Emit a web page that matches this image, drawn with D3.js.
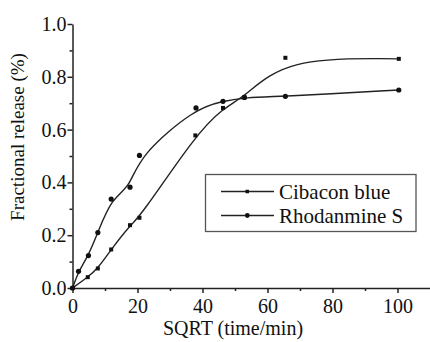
<!DOCTYPE html>
<html>
<head>
<meta charset="utf-8">
<script src="https://cdn.jsdelivr.net/npm/d3@7"></script>
</head>
<body style="margin:0; background:#fff">
<script>
// values
const cibaconX = [0, 4.7, 7.8, 11.9, 17.7, 20.6, 37.8, 46.3, 52.9, 65.5, 100.4];
const cibaconY = [0, 0.041, 0.074, 0.146, 0.238, 0.266, 0.578, 0.682, 0.722, 0.872, 0.868];
const rhodX = [0, 1.85, 4.9, 7.8, 11.9, 17.7, 20.6, 38.0, 46.3, 52.9, 65.5, 100.4];
const rhodY = [0, 0.063, 0.123, 0.21, 0.337, 0.382, 0.502, 0.682, 0.707, 0.722, 0.726, 0.75];
const xTicks = [0, 20, 40, 60, 80, 100];
const xMinor = [10, 30, 50, 70, 90];
const yTicks = [0, 0.2, 0.4, 0.6, 0.8, 1.0];
const yMinor = [0.1, 0.3, 0.5, 0.7, 0.9];
const seriesNames = ["Cibacon blue", "Rhodanmine S"];

const width = 430;
const height = 342;
const ink = "#222";

const svg = d3.select("body")
  .append("svg")
  .attr("width", width)
  .attr("height", height)
  .style("display", "block")
  .style("font-family", "'Liberation Serif'");

const xScale = d3.scaleLinear().domain([0, 110]).range([72.5, 430]);
const yScale = d3.scaleLinear().domain([0, 1]).range([288, 24]);

function styleAxis(g) {
  g.attr("font-family", null).attr("font-size", null);
  g.selectAll("path, line").attr("stroke", ink).attr("stroke-width", 1.5);
  g.selectAll("text")
    .style("font-family", "'Liberation Serif'")
    .style("font-size", "20px")
    .attr("fill", "#111");
}

// minor ticks
svg.append("g")
  .attr("transform", "translate(0," + yScale(0) + ")")
  .call(d3.axisBottom(xScale).tickValues(xMinor).tickSize(3).tickFormat(""))
  .call(styleAxis)
  .select(".domain").remove();

svg.append("g")
  .attr("transform", "translate(" + xScale(0) + ",0)")
  .call(d3.axisLeft(yScale).tickValues(yMinor).tickSize(3).tickFormat(""))
  .call(styleAxis)
  .select(".domain").remove();

// main axes
svg.append("g")
  .attr("transform", "translate(0," + yScale(0) + ")")
  .call(d3.axisBottom(xScale).tickValues(xTicks).tickSize(5).tickSizeOuter(0).tickPadding(6).tickFormat(d3.format("d")))
  .call(styleAxis);

svg.append("g")
  .attr("transform", "translate(" + xScale(0) + ",0)")
  .call(d3.axisLeft(yScale).tickValues(yTicks).tickSize(5).tickSizeOuter(0).tickPadding(1).tickFormat(d3.format(".1f")))
  .call(styleAxis);

// B-spline style curves through the points
const line = d3.line()
  .x(d => xScale(d[0]))
  .y(d => yScale(d[1]))
  .curve(d3.curveBasis);

const cibacon = cibaconX.map((v, i) => [v, cibaconY[i]]);
const rhod = rhodX.map((v, i) => [v, rhodY[i]]);

[cibacon, rhod].forEach(data => {
  svg.append("path")
    .datum(data)
    .attr("d", line)
    .attr("fill", "none")
    .attr("stroke", ink)
    .attr("stroke-width", 1.4);
});

svg.selectAll("rect.pt")
  .data(cibacon)
  .enter()
  .append("rect")
  .attr("class", "pt")
  .attr("x", d => xScale(d[0]) - 2)
  .attr("y", d => yScale(d[1]) - 2)
  .attr("width", 4)
  .attr("height", 4)
  .attr("fill", "#111");

svg.selectAll("circle.pt")
  .data(rhod)
  .enter()
  .append("circle")
  .attr("class", "pt")
  .attr("cx", d => xScale(d[0]))
  .attr("cy", d => yScale(d[1]))
  .attr("r", 2.6)
  .attr("fill", "#111");

// axis titles
svg.append("text")
  .attr("x", 233)
  .attr("y", 335)
  .attr("text-anchor", "middle")
  .style("font-family", "'Liberation Serif'")
  .style("font-size", "20px")
  .attr("fill", "#111")
  .text("SQRT (time/min)");

svg.append("text")
  .attr("transform", "rotate(-90)")
  .attr("x", -137)
  .attr("y", 24)
  .attr("text-anchor", "middle")
  .style("font-family", "'Liberation Serif'")
  .style("font-size", "19px")
  .attr("fill", "#111")
  .text("Fractional release (%)");

// legend
const legend = svg.append("g");
legend.append("rect")
  .attr("x", 205.5)
  .attr("y", 174.5)
  .attr("width", 210.5)
  .attr("height", 57)
  .attr("fill", "#fff")
  .attr("stroke", "#555")
  .attr("stroke-width", 1.3);

const rows = [191.5, 215.5];
seriesNames.forEach((name, i) => {
  const g = legend.append("g").attr("transform", "translate(0," + rows[i] + ")");
  g.append("line")
    .attr("x1", 221).attr("x2", 274)
    .attr("y1", 0).attr("y2", 0)
    .attr("stroke", ink)
    .attr("stroke-width", 1.4);
  if (i === 0) {
    g.append("rect").attr("x", 245.5).attr("y", -1.75).attr("width", 3.5).attr("height", 3.5).attr("fill", "#111");
  } else {
    g.append("circle").attr("cx", 247.3).attr("cy", 0).attr("r", 2.4).attr("fill", "#111");
  }
  g.append("text")
    .attr("x", 279)
    .attr("y", 0)
    .attr("dy", "0.35em")
    .style("font-family", "'Liberation Serif'")
    .style("font-size", "21px")
    .attr("fill", "#111")
    .text(name);
});
</script>
</body>
</html>
